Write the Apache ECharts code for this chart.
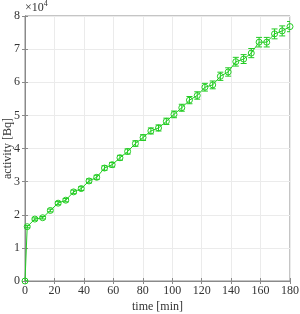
<!DOCTYPE html>
<html><head><meta charset="utf-8">
<script src="https://cdn.jsdelivr.net/npm/echarts@6/dist/echarts.min.js"></script>
<style>html,body{margin:0;padding:0;background:#fff}#c{width:300px;height:314px}</style>
</head><body><div id="c"></div>
<script>
// time [min]
var times = [0, 1.5, 6.7, 12, 17.2, 22.5, 27.7, 33, 38.2, 43.5, 48.7, 54, 59.2, 64.5, 69.7, 75, 80.2, 85.5, 90.7, 96, 101.2, 106.5, 111.7, 117, 122.2, 127.5, 132.7, 138, 143.2, 148.5, 153.7, 159, 164.2, 169.5, 174.7, 180];
// activity [Bq]
var activity = [0, 16400, 18700, 19100, 21300, 23500, 24400, 26900, 27900, 30200, 31300, 34100, 35100, 37200, 39100, 41500, 43300, 45300, 46200, 48200, 50300, 52300, 54600, 56000, 58500, 59200, 61800, 63100, 66200, 67000, 68800, 72100, 72100, 74600, 75500, 76800];
// error (half-height of error bar) [Bq]
var errors = [0, 330, 370, 380, 430, 470, 490, 540, 560, 600, 630, 680, 700, 740, 780, 830, 870, 910, 920, 960, 1010, 1050, 1090, 1120, 1170, 1180, 1240, 1260, 1320, 1340, 1380, 1440, 1440, 1490, 1510, 1540];
var xTicks = [0, 20, 40, 60, 80, 100, 120, 140, 160, 180];
var yTicks = [0, 1, 2, 3, 4, 5, 6, 7, 8];

var GREEN = '#22cc22';
var font = 'Liberation Serif';
var chart = echarts.init(document.getElementById('c'), null, {renderer: 'canvas'});
var pts = times.map(function (t, i) { return [t, activity[i]]; });
var errData = times.map(function (t, i) { return [t, activity[i] - errors[i], activity[i] + errors[i]]; });

var gridCol = '#ebebeb', axCol = '#8a8a8a', txtCol = '#333';
chart.setOption({
  animation: false,
  grid: {left: 25, right: 10, top: 16, bottom: 33, containLabel: false, outerBoundsMode: 'none',
         show: true, borderColor: axCol, borderWidth: 1},
  graphic: [{
    type: 'text', left: 25, top: 0,
    style: {
      text: '{a|×10}{s|4}',
      rich: {
        a: {fontFamily: font, fontSize: 12, fill: txtCol, verticalAlign: 'bottom', lineHeight: 14},
        s: {fontFamily: font, fontSize: 8, fill: txtCol, verticalAlign: 'top', lineHeight: 14, padding: [0, 0, 6, 0]}
      }
    }
  }],
  xAxis: [{
    type: 'value', min: 0, max: 180, interval: 20,
    name: 'time [min]', nameLocation: 'middle', nameGap: 20, nameMoveOverlap: false,
    nameTextStyle: {fontFamily: font, fontSize: 12, color: txtCol},
    axisLine: {show: true, lineStyle: {color: axCol}},
    axisTick: {show: true, inside: true, length: 3, lineStyle: {color: axCol}},
    axisLabel: {fontFamily: font, fontSize: 12, color: txtCol, margin: 4,
      formatter: function (v) { return xTicks.indexOf(v) >= 0 ? String(v) : ''; }},
    splitLine: {show: true, lineStyle: {color: gridCol}}
  }, {
    type: 'value', min: 0, max: 180, interval: 20, position: 'top',
    axisLine: {show: true, lineStyle: {color: axCol}},
    axisTick: {show: true, inside: true, length: 3, lineStyle: {color: axCol}},
    axisLabel: {show: false}, splitLine: {show: false}
  }],
  yAxis: [{
    type: 'value', min: 0, max: 80000, interval: 10000,
    name: 'activity [Bq]', nameLocation: 'middle', nameGap: 11, nameMoveOverlap: false,
    nameTextStyle: {fontFamily: font, fontSize: 12, color: txtCol},
    axisLine: {show: true, lineStyle: {color: axCol}},
    axisTick: {show: true, inside: true, length: 3, lineStyle: {color: axCol}},
    axisLabel: {fontFamily: font, fontSize: 12, color: txtCol, margin: 5,
      formatter: function (v) { return String(yTicks[Math.round(v / 10000)]); }},
    splitLine: {show: true, lineStyle: {color: gridCol}}
  }, {
    type: 'value', min: 0, max: 80000, interval: 10000, position: 'right',
    axisLine: {show: true, lineStyle: {color: axCol}},
    axisTick: {show: true, inside: true, length: 3, lineStyle: {color: axCol}},
    axisLabel: {show: false}, splitLine: {show: false}
  }],
  series: [{
    type: 'line', data: pts, clip: true,
    symbol: 'circle', symbolSize: 6, showAllSymbol: true,
    lineStyle: {color: GREEN, width: 1},
    itemStyle: {color: 'rgba(0,0,0,0)', borderColor: GREEN, borderWidth: 1},
    emphasis: {disabled: true},
    z: 3
  }, {
    type: 'custom', data: errData, clip: true,
    renderItem: function (params, api) {
      var x = api.value(0), lo = api.value(1), hi = api.value(2);
      var p1 = api.coord([x, lo]), p2 = api.coord([x, hi]);
      var w = 3;
      var st = {stroke: GREEN, lineWidth: 1};
      return {type: 'group', children: [
        {type: 'line', shape: {x1: p1[0], y1: p1[1], x2: p2[0], y2: p2[1]}, style: st},
        {type: 'line', shape: {x1: p1[0] - w, y1: p1[1], x2: p1[0] + w, y2: p1[1]}, style: st},
        {type: 'line', shape: {x1: p2[0] - w, y1: p2[1], x2: p2[0] + w, y2: p2[1]}, style: st}
      ]};
    },
    z: 2
  }]
});
</script></body></html>
